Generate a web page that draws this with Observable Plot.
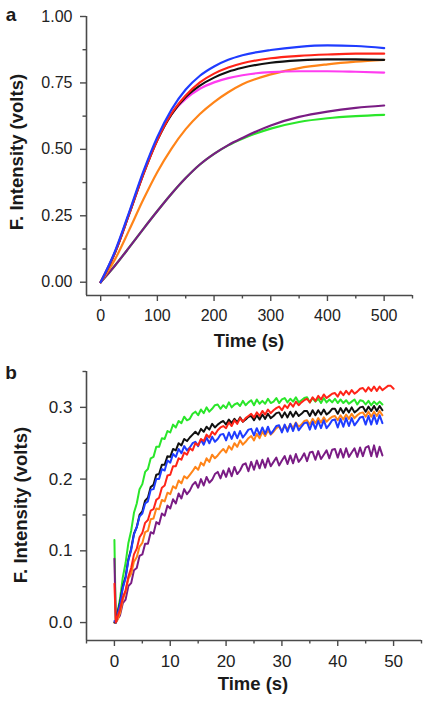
<!DOCTYPE html>
<html><head><meta charset="utf-8">
<script src="https://cdn.jsdelivr.net/npm/d3@7"></script>
<script src="https://cdn.jsdelivr.net/npm/@observablehq/plot@0.6"></script>
<style>
html,body{margin:0;padding:0;background:#fff;}
#chart svg{display:block;}
</style>
</head><body><div id="chart"></div>
<script>
// ---------- Panel a data ----------
const timeA = [0,25,50,75,100,125,150,175,200,225,250,300,350,400,450,500];
const greenA   = [0,0.062,0.130,0.200,0.268,0.333,0.392,0.443,0.483,0.515,0.540,0.578,0.603,0.617,0.625,0.630];
const purpleA  = [0,0.062,0.130,0.200,0.268,0.333,0.392,0.443,0.483,0.516,0.543,0.590,0.622,0.642,0.656,0.665];
const orangeA  = [0,0.085,0.195,0.310,0.415,0.503,0.576,0.633,0.678,0.715,0.745,0.782,0.806,0.820,0.830,0.837];
const magentaA = [0,0.112,0.258,0.410,0.540,0.633,0.690,0.728,0.752,0.768,0.779,0.791,0.794,0.794,0.792,0.789];
const blackA   = [0,0.110,0.255,0.405,0.535,0.632,0.697,0.740,0.770,0.792,0.807,0.826,0.835,0.839,0.839,0.837];
const redA     = [0,0.110,0.255,0.405,0.535,0.635,0.703,0.752,0.785,0.808,0.824,0.843,0.852,0.857,0.860,0.860];
const blueA    = [0,0.115,0.262,0.415,0.547,0.650,0.725,0.777,0.812,0.837,0.854,0.874,0.886,0.891,0.889,0.881];
const namesA = ["trace-green","trace-purple","trace-orange","trace-magenta","trace-black","trace-red","trace-blue"];
const xTicksA = [0,100,200,300,400,500];
const xMinorA = [50,150,250,350,450,550];
const yTicksA = [0,0.25,0.5,0.75,1];
const yMinorA = [0.125,0.375,0.625,0.875];

// ---------- Panel b data ----------
const timeB = [0,0.25,0.5,1,1.5,2,2.5,3,3.5,4,4.5,5,
5.5,6,6.5,7,7.5,8,8.5,9,9.5,10,
10.5,11,11.5,12,12.5,13,13.5,14,14.5,15,
15.5,16,16.5,17,17.5,18,18.5,19,19.5,20,
20.5,21,21.5,22,22.5,23,23.5,24,24.5,25,
25.5,26,26.5,27,27.5,28,28.5,29,29.5,30,
30.5,31,31.5,32,32.5,33,33.5,34,34.5,35,
35.5,36,36.5,37,37.5,38,38.5,39,39.5,40,
40.5,41,41.5,42,42.5,43,43.5,44,44.5,45,
45.5,46,46.5,47,47.5,48,48.5,49,49.5,50];
const greenB = [0.115,0.000,
0.012,0.033,0.063,0.083,0.111,0.128,0.153,0.166,0.186,0.193,
0.210,0.214,0.229,0.231,0.245,0.245,0.257,0.256,0.267,0.265,
0.276,0.272,0.281,0.278,0.287,0.282,0.284,0.291,0.294,0.289,
0.297,0.292,0.300,0.294,0.298,0.303,0.304,0.298,0.303,0.299,
0.307,0.300,0.304,0.306,0.302,0.309,0.303,0.307,0.310,0.303,
0.311,0.305,0.309,0.305,0.312,0.306,0.308,0.313,0.306,0.311,
0.313,0.307,0.312,0.308,0.314,0.307,0.310,0.313,0.314,0.307,
0.313,0.308,0.312,0.306,0.313,0.307,0.311,0.307,0.312,0.306,
0.311,0.306,0.310,0.305,0.308,0.311,0.304,0.310,0.309,0.304,
0.309,0.303,0.308,0.304,0.308,0.304];
const purpleB = [0.089,0.000,
0.004,0.010,0.027,0.032,0.051,0.055,0.073,0.076,0.093,0.095,
0.110,0.110,0.126,0.124,0.140,0.137,0.152,0.149,0.163,0.159,
0.172,0.166,0.180,0.173,0.186,0.179,0.184,0.192,0.196,0.188,
0.200,0.191,0.203,0.195,0.199,0.207,0.210,0.201,0.212,0.203,
0.215,0.204,0.217,0.207,0.212,0.220,0.222,0.211,0.224,0.213,
0.226,0.215,0.227,0.216,0.229,0.218,0.224,0.230,0.219,0.226,
0.232,0.221,0.233,0.222,0.235,0.224,0.229,0.236,0.225,0.237,
0.238,0.227,0.239,0.228,0.234,0.240,0.229,0.241,0.242,0.230,
0.242,0.230,0.243,0.231,0.237,0.243,0.231,0.244,0.232,0.244,
0.246,0.232,0.247,0.231,0.245,0.233];
const orangeB = [0.000,0.000,
0.003,0.013,0.032,0.043,0.061,0.068,0.085,0.091,0.106,0.111,
0.126,0.128,0.144,0.145,0.159,0.158,0.171,0.169,0.181,0.179,
0.190,0.187,0.198,0.194,0.204,0.201,0.206,0.211,0.217,0.213,
0.223,0.219,0.229,0.224,0.234,0.229,0.233,0.238,0.242,0.237,
0.246,0.241,0.250,0.245,0.254,0.248,0.252,0.257,0.260,0.254,
0.263,0.257,0.266,0.260,0.268,0.262,0.266,0.271,0.273,0.267,
0.275,0.269,0.277,0.271,0.279,0.273,0.276,0.281,0.282,0.276,
0.284,0.278,0.285,0.279,0.286,0.280,0.284,0.287,0.288,0.282,
0.289,0.283,0.290,0.284,0.291,0.285,0.289,0.292,0.293,0.287,
0.294,0.287,0.294,0.288,0.295,0.289];
const blackB = [0.000,0.000,
0.011,0.028,0.050,0.064,0.088,0.103,0.124,0.133,0.150,0.155,
0.170,0.174,0.189,0.192,0.206,0.207,0.220,0.220,0.232,0.231,
0.242,0.240,0.250,0.247,0.256,0.253,0.258,0.262,0.266,0.262,
0.270,0.266,0.273,0.269,0.277,0.272,0.276,0.279,0.281,0.276,
0.283,0.278,0.284,0.279,0.286,0.280,0.283,0.287,0.288,0.282,
0.289,0.283,0.290,0.284,0.291,0.285,0.288,0.292,0.293,0.286,
0.293,0.286,0.294,0.287,0.294,0.288,0.291,0.295,0.295,0.288,
0.296,0.289,0.296,0.290,0.297,0.290,0.293,0.298,0.298,0.291,
0.299,0.292,0.299,0.293,0.300,0.293,0.296,0.300,0.301,0.294,
0.301,0.295,0.302,0.295,0.302,0.296];
const blueB = [0.002,0.000,
0.009,0.026,0.048,0.062,0.087,0.101,0.123,0.133,0.148,0.152,
0.166,0.169,0.185,0.186,0.200,0.200,0.214,0.212,0.226,0.223,
0.235,0.231,0.242,0.236,0.246,0.240,0.244,0.250,0.252,0.246,
0.255,0.248,0.258,0.250,0.259,0.252,0.256,0.262,0.263,0.254,
0.265,0.256,0.266,0.257,0.267,0.258,0.263,0.269,0.270,0.261,
0.271,0.262,0.272,0.263,0.273,0.263,0.268,0.274,0.275,0.265,
0.276,0.266,0.277,0.267,0.278,0.268,0.273,0.278,0.279,0.269,
0.280,0.270,0.281,0.271,0.282,0.271,0.276,0.282,0.283,0.272,
0.284,0.273,0.285,0.274,0.285,0.275,0.280,0.286,0.287,0.276,
0.288,0.276,0.289,0.277,0.289,0.278];
const redB = [0.054,0.000,
0.007,0.018,0.035,0.045,0.064,0.076,0.095,0.103,0.119,0.125,
0.139,0.143,0.156,0.158,0.171,0.174,0.188,0.191,0.205,0.206,
0.218,0.218,0.229,0.227,0.237,0.234,0.243,0.240,0.250,0.247,
0.256,0.253,0.262,0.258,0.266,0.262,0.268,0.272,0.274,0.271,
0.279,0.274,0.282,0.277,0.285,0.280,0.285,0.288,0.291,0.286,
0.293,0.288,0.295,0.290,0.297,0.292,0.296,0.299,0.301,0.296,
0.303,0.299,0.306,0.301,0.308,0.303,0.307,0.310,0.312,0.307,
0.314,0.309,0.316,0.311,0.318,0.313,0.316,0.319,0.320,0.315,
0.322,0.317,0.323,0.318,0.324,0.319,0.322,0.326,0.327,0.322,
0.328,0.323,0.329,0.323,0.329,0.324,0.327,0.330,0.330,0.326];
const namesB = ["trace-green","trace-purple","trace-orange","trace-black","trace-blue","trace-red"];
const xTicksB = [0,10,20,30,40,50];
const xMinorB = [-5,5,15,25,35,45,55];
const yTicksB = [0,0.1,0.2,0.3];
const yMinorB = [0.05,0.15,0.25,0.35];

// ---------- drawing ----------
const FONT = "'Liberation Sans', Arial, Helvetica, sans-serif";
const palette = {
  "trace-green": "#2ae62a", "trace-purple": "#7a1c84", "trace-orange": "#ff8418",
  "trace-magenta": "#ff3cf0", "trace-black": "#111111", "trace-red": "#ff2418", "trace-blue": "#1f3cff"
};
function tidy(names, arrays, times) {
  const out = [];
  names.forEach((n, k) => arrays[k].forEach((v, i) => out.push({s: n, t: times[i], v})));
  return out;
}
const dataA = tidy(namesA, [greenA, purpleA, orangeA, magentaA, blackA, redA, blueA], timeA);
const dataB = tidy(namesB, [greenB, purpleB, orangeB, blackB, blueB, redB], timeB);

const xDomainA = [-25, 550], yDomainA = [-0.05, 1.0];
const xDomainB = [-5, 55], yDomainB = [-0.025, 0.35];
const axisColor = "#4a4a4a";

function panel(o) {
  return Plot.plot({
    width: 431, height: o.height,
    marginLeft: 86, marginRight: o.mr, marginTop: o.mt, marginBottom: o.mb,
    style: {fontFamily: FONT, fontSize: o.fs, color: "#222", background: "white", overflow: "visible"},
    x: {domain: o.xd},
    y: {domain: o.yd},
    color: {type: "ordinal", domain: o.names, range: o.names.map(n => palette[n])},
    marks: [
      Plot.axisX({ticks: o.xt, tickSize: 6, tickPadding: 8, label: null, tickFormat: d => String(d), stroke: axisColor, strokeWidth: 1.4}),
      Plot.axisX({ticks: o.xm, tickSize: 3.5, label: null, tickFormat: () => "", stroke: axisColor, strokeWidth: 1.4}),
      Plot.axisY({ticks: o.yt, tickSize: 6, tickPadding: 8, label: null, tickFormat: d3.format(o.yf), stroke: axisColor, strokeWidth: 1.4}),
      Plot.axisY({ticks: o.ym, tickSize: 3.5, label: null, tickFormat: () => "", stroke: axisColor, strokeWidth: 1.4}),
      Plot.ruleX([o.xd[0]], {stroke: axisColor, strokeWidth: 1.6}),
      Plot.ruleY([o.yd[0]], {stroke: axisColor, strokeWidth: 1.6}),
      Plot.line(o.data, {x: "t", y: "v", z: "s", stroke: "s", strokeWidth: o.sw, curve: o.curve})
    ]
  });
}

const svgA = panel({height: 350, mr: 19, mt: 16, mb: 55, fs: "16px", xd: xDomainA, yd: yDomainA,
  names: namesA, xt: xTicksA, xm: xMinorA, yt: yTicksA, ym: yMinorA, yf: ".2f", data: dataA, sw: 2.2, curve: "monotone-x"});
const svgB = panel({height: 355, mr: 10, mt: 21, mb: 65, fs: "17px", xd: xDomainB, yd: yDomainB,
  names: namesB, xt: xTicksB, xm: xMinorB, yt: yTicksB, ym: yMinorB, yf: ".1f", data: dataB, sw: 2, curve: "linear"});

function addLabels(svg, letter, ly, yx, yy, xx, xy) {
  const s = d3.select(svg);
  const g = s.append("g").attr("font-family", FONT).attr("font-weight", "bold").attr("fill", "#1a1a1a");
  g.append("text").attr("x", 11).attr("y", ly).attr("font-size", 19).text(letter);
  g.append("text").attr("transform", `translate(${yx},${yy}) rotate(-90)`).attr("text-anchor", "middle")
    .attr("font-size", 18.5).text("F. Intensity (volts)");
  g.append("text").attr("x", xx).attr("y", xy).attr("text-anchor", "middle").attr("font-size", 18.5).text("Time (s)");
}
addLabels(svgA, "a", 21, 23, 152, 249, 347);
addLabels(svgB, "b", 29, 27, 155, 253, 340);

document.getElementById("chart").append(svgA, svgB);
</script>
</body></html>
